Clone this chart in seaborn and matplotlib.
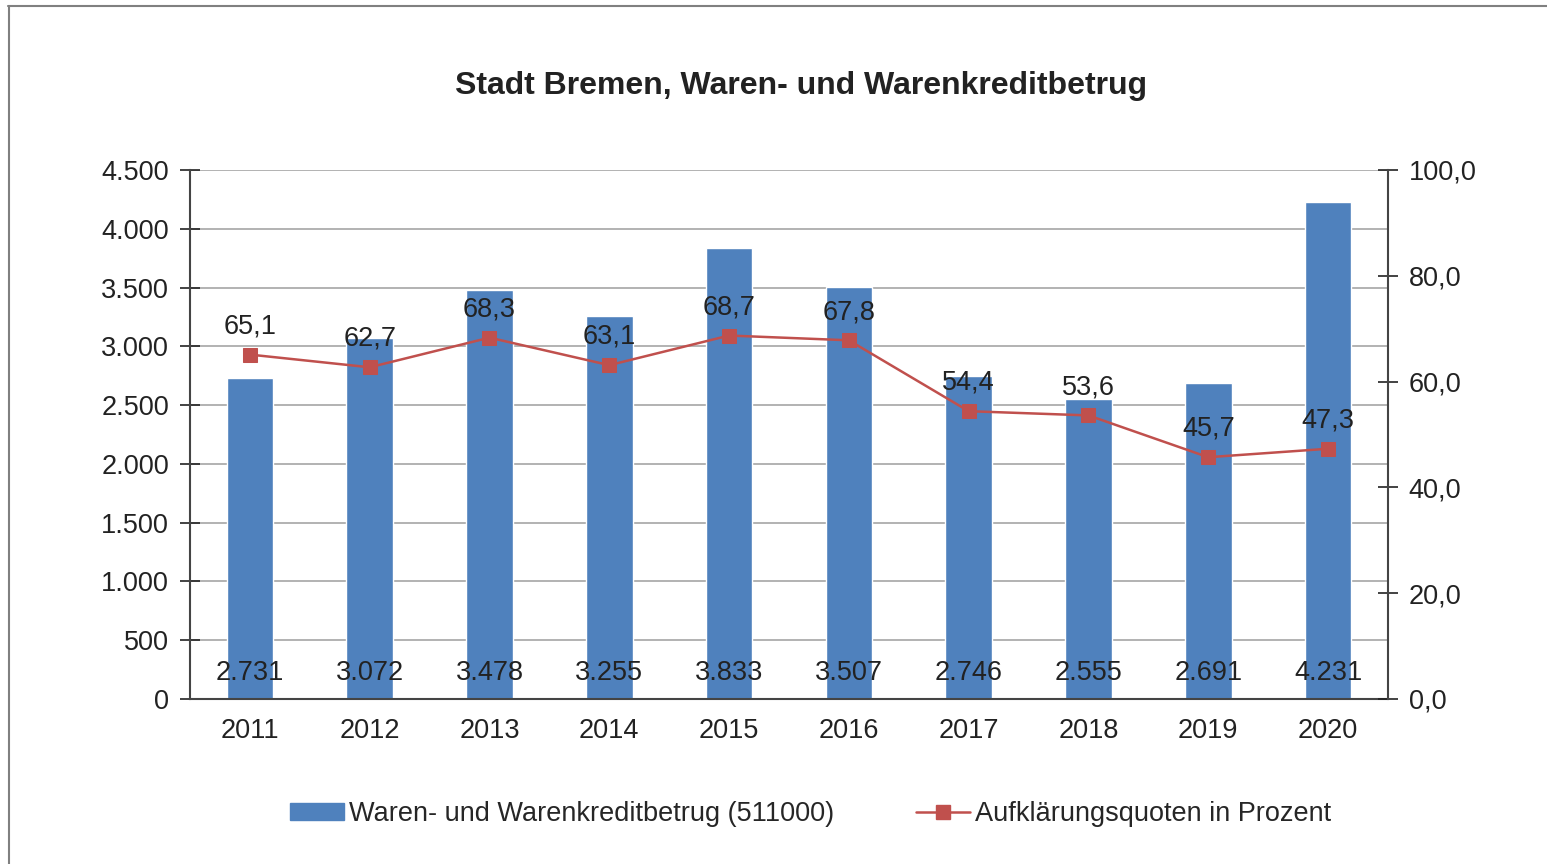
import matplotlib
matplotlib.use("Agg")
import matplotlib.pyplot as plt
from matplotlib.lines import Line2D
from matplotlib.patches import Patch
import matplotlib.ticker as mticker
import seaborn as sns
import pandas as pd
import numpy as np

years = ["2011", "2012", "2013", "2014", "2015", "2016", "2017", "2018", "2019", "2020"]
betrug = [2731, 3072, 3478, 3255, 3833, 3507, 2746, 2555, 2691, 4231]
quote = [65.1, 62.7, 68.3, 63.1, 68.7, 67.8, 54.4, 53.6, 45.7, 47.3]

bar_label = "Waren- und Warenkreditbetrug (511000)"
line_label = "Aufklärungsquoten in Prozent"
blue = "#4F81BD"
red = "#C0504D"
fs = 19.5

sns.set_style("white")
plt.rcParams["font.family"] = ["Liberation Sans", "DejaVu Sans"]

df = pd.DataFrame({"Jahr": years, "Betrug": betrug, "Quote": quote})

fig = plt.figure(figsize=(15.47, 8.64), dpi=100)
ax = fig.add_axes([0.1228, 0.1910, 0.7744, 0.6123])

sns.barplot(data=df, x="Jahr", y="Betrug", color=blue, saturation=1, width=0.39, ax=ax)
ax.set_ylim(0, 4500)
ax.set_xlim(-0.5, 9.5)
ax.set_yticks(np.arange(0, 4501, 500))
ax.yaxis.set_major_formatter(mticker.FuncFormatter(lambda v, p: f"{int(v):,}".replace(",", ".")))
ax.grid(axis="y", color="#a6a6a6", lw=1.2)
ax.set_axisbelow(True)
ax.set_xlabel("")
ax.set_ylabel("")
ax.set_xticks(np.arange(-0.5, 10, 1), minor=True)
ax.tick_params(axis="x", which="major", length=0, labelsize=fs, pad=14, colors="#222222")
ax.tick_params(axis="x", which="minor", length=14, direction="inout", width=1.2, color="#444444")
ax.tick_params(axis="y", length=14, direction="inout", width=1.2, labelsize=fs, pad=8, colors="#222222")
for s in ["left", "bottom"]:
    ax.spines[s].set_color("#444444")
    ax.spines[s].set_linewidth(1.5)
ax.spines["top"].set_visible(False)
ax.spines["right"].set_visible(False)

for i, v in enumerate(betrug):
    ax.annotate(f"{v:,}".replace(",", "."), xy=(i, 0), xytext=(0, 9), textcoords="offset points",
                ha="center", va="bottom", fontsize=fs, color="#222222")

ax2 = ax.twinx()
sns.lineplot(x=np.arange(len(years)), y=quote, color=red, marker="s", markersize=10,
             markeredgecolor=red, lw=1.8, ax=ax2)
ax2.set_ylim(0, 100)
ax2.set_yticks(np.arange(0, 101, 20))
ax2.yaxis.set_major_formatter(mticker.FuncFormatter(lambda v, p: f"{v:.1f}".replace(".", ",")))
ax2.tick_params(axis="y", length=14, direction="inout", width=1.2, labelsize=fs, pad=8, colors="#222222")
ax2.spines["right"].set_color("#444444")
ax2.spines["right"].set_linewidth(1.5)
for s in ["left", "top", "bottom"]:
    ax2.spines[s].set_visible(False)
ax2.set_ylabel("")
for i, v in enumerate(quote):
    ax2.annotate(f"{v:.1f}".replace(".", ","), xy=(i, v), xytext=(0, 11), textcoords="offset points",
                 ha="center", va="bottom", fontsize=fs, color="#222222")

fig.text(0.5175, 0.901, "Stadt Bremen, Waren- und Warenkreditbetrug", ha="center", va="center",
         fontsize=23, fontweight="bold", color="#222222")

handles = [Patch(facecolor=blue, edgecolor=blue),
           Line2D([], [], color=red, marker="s", markersize=10, lw=1.8)]
fig.legend(handles, [bar_label, line_label], loc="center", bbox_to_anchor=(0.524, 0.058), ncol=2,
           frameon=False, fontsize=fs, handlelength=2.0, handleheight=0.6, columnspacing=3.0,
           handletextpad=0.2)

# outer chart frame
fig.add_artist(Line2D([8 / 1547, 1], [1 - 6 / 864, 1 - 6 / 864], color="#808080", lw=1.5))
fig.add_artist(Line2D([9 / 1547, 9 / 1547], [0, 1 - 6 / 864], color="#808080", lw=1.5))

fig.savefig("out.png", dpi=100)
